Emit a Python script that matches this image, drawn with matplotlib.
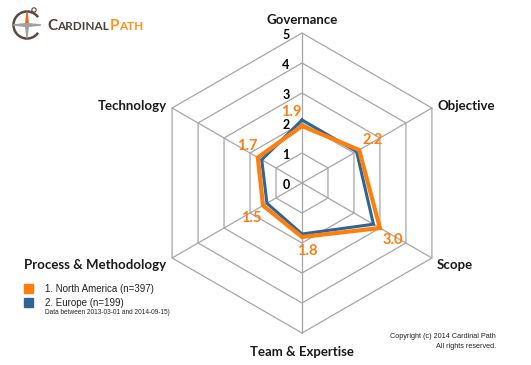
import matplotlib
matplotlib.use('Agg')
import matplotlib.pyplot as plt
from matplotlib.patches import Rectangle, Circle, Polygon, Arc
import numpy as np

# chart data
categories = ['Governance', 'Objective', 'Scope', 'Team & Expertise',
              'Process & Methodology', 'Technology']
north_america = [1.9, 2.2, 3.0, 1.8, 1.5, 1.7]
europe = [2.1, 2.1, 2.75, 1.7, 1.35, 1.55]
ring_levels = [0, 1, 2, 3, 4, 5]
legend_labels = ['1. North America (n=397)', '2. Europe (n=199)']

ORANGE = '#FF7F0E'
BLUE = '#2F6496'
GRID = '#A6A6A6'

W, H = 531, 365
cx, cy = 302, 183      # centre of the radar in pixels
unit = 30               # pixels per scale step

fig = plt.figure(figsize=(W / 100, H / 100), dpi=100)
ax = fig.add_axes([0, 0, 1, 1])
ax.set_xlim(0, W)
ax.set_ylim(H, 0)
ax.axis('off')

angles = np.arange(len(categories)) * 2 * np.pi / len(categories)


def to_xy(values):
    v = np.asarray(values, dtype=float)
    return cx + v * unit * np.sin(angles), cy - v * unit * np.cos(angles)


# hexagon grid
for lvl in ring_levels[1:]:
    x, y = to_xy([lvl] * len(categories))
    ax.add_patch(Polygon(np.column_stack([x, y]), closed=True, fill=False,
                         edgecolor=GRID, lw=0.9, zorder=1))
xo, yo = to_xy([ring_levels[-1]] * len(categories))
for px, py in zip(xo, yo):
    ax.plot([cx, px], [cy, py], color=GRID, lw=0.9, zorder=1)

# ring labels
for lvl in ring_levels:
    ax.text(cx - 16, cy - lvl * unit + 2, str(lvl), ha='center', va='center',
            fontsize=9, fontweight='bold', family='Lato', color='black', zorder=2)

# series
for vals, col, lw in [(europe, BLUE, 2.2), (north_america, ORANGE, 3.0)]:
    x, y = to_xy(vals)
    ax.plot(np.append(x, x[0]), np.append(y, y[0]), color=col, lw=lw,
            solid_joinstyle='miter', zorder=3)

# value labels for north america
offsets = [(-11, -14), (13, -10), (13, 12), (5, 14), (-12, 12), (-11, -12)]
xs, ys = to_xy(north_america)
for v, px, py, (dx, dy) in zip(north_america, xs, ys, offsets):
    ax.text(px + dx, py + dy, f'{v:.1f}', ha='center', va='center',
            fontsize=10.5, fontweight='bold', family='Lato', color=ORANGE, zorder=4)

# category labels
cat_pos = [(302, 20, 'center'), (437, 106, 'left'), (437, 265, 'left'),
           (302, 352, 'center'), (166, 265, 'right'), (167, 106, 'right')]
for name, (px, py, ha) in zip(categories, cat_pos):
    ax.text(px, py, name, ha=ha, va='center', fontsize=9.5,
            fontweight='bold', family='Lato', color='#1a1a1a')

# legend
for i, (lab, col) in enumerate(zip(legend_labels, [ORANGE, BLUE])):
    y0 = 284 + i * 14
    ax.add_patch(Rectangle((24, y0), 9, 9, color=col))
    ax.text(45, y0 + 5, lab, ha='left', va='center', fontsize=7.0,
            family='Liberation Sans', color='#222222')
ax.text(45, 313, 'Data between 2013-03-01 and 2014-09-15)', ha='left',
        va='center', fontsize=4.7, family='Liberation Sans', color='#222222')

# copyright
ax.text(496, 336, 'Copyright (c) 2014 Cardinal Path', ha='right', va='center',
        fontsize=5.2, family='Liberation Sans', color='#222222')
ax.text(496, 346, 'All rights reserved.', ha='right', va='center',
        fontsize=5.2, family='Liberation Sans', color='#222222')

# logo: a small compass and the name
ax.add_patch(Arc((27, 25), 27, 27, theta1=35, theta2=325,
                 edgecolor='#5a4a42', lw=1.8))
ax.add_patch(Polygon([[27, 12], [28.5, 25], [25.5, 25]], color='#F26522'))
ax.add_patch(Polygon([[27, 38], [28.5, 25], [25.5, 25]], color='#a0a0a0'))
ax.add_patch(Polygon([[13, 25], [27, 23.5], [27, 26.5]], color='#a0a0a0'))
ax.add_patch(Polygon([[41, 25], [27, 23.5], [27, 26.5]], color='#a0a0a0'))
ax.add_patch(Circle((34, 10), 2.2, fill=False, edgecolor='#5a4a42', lw=0.8))
ax.text(47, 26, 'C', ha='left', va='center', fontsize=11, fontweight='bold',
        family='Lato', color='#4a3f3a')
ax.text(57, 26.8, 'ARDINAL', ha='left', va='center', fontsize=8.5,
        fontweight='bold', family='Lato', color='#4a3f3a')
ax.text(110, 26, 'P', ha='left', va='center', fontsize=11, fontweight='bold',
        family='Lato', color='#F7941D')
ax.text(119, 26.8, 'ATH', ha='left', va='center', fontsize=8.5,
        fontweight='bold', family='Lato', color='#F7941D')

fig.savefig('out.png', dpi=100)
